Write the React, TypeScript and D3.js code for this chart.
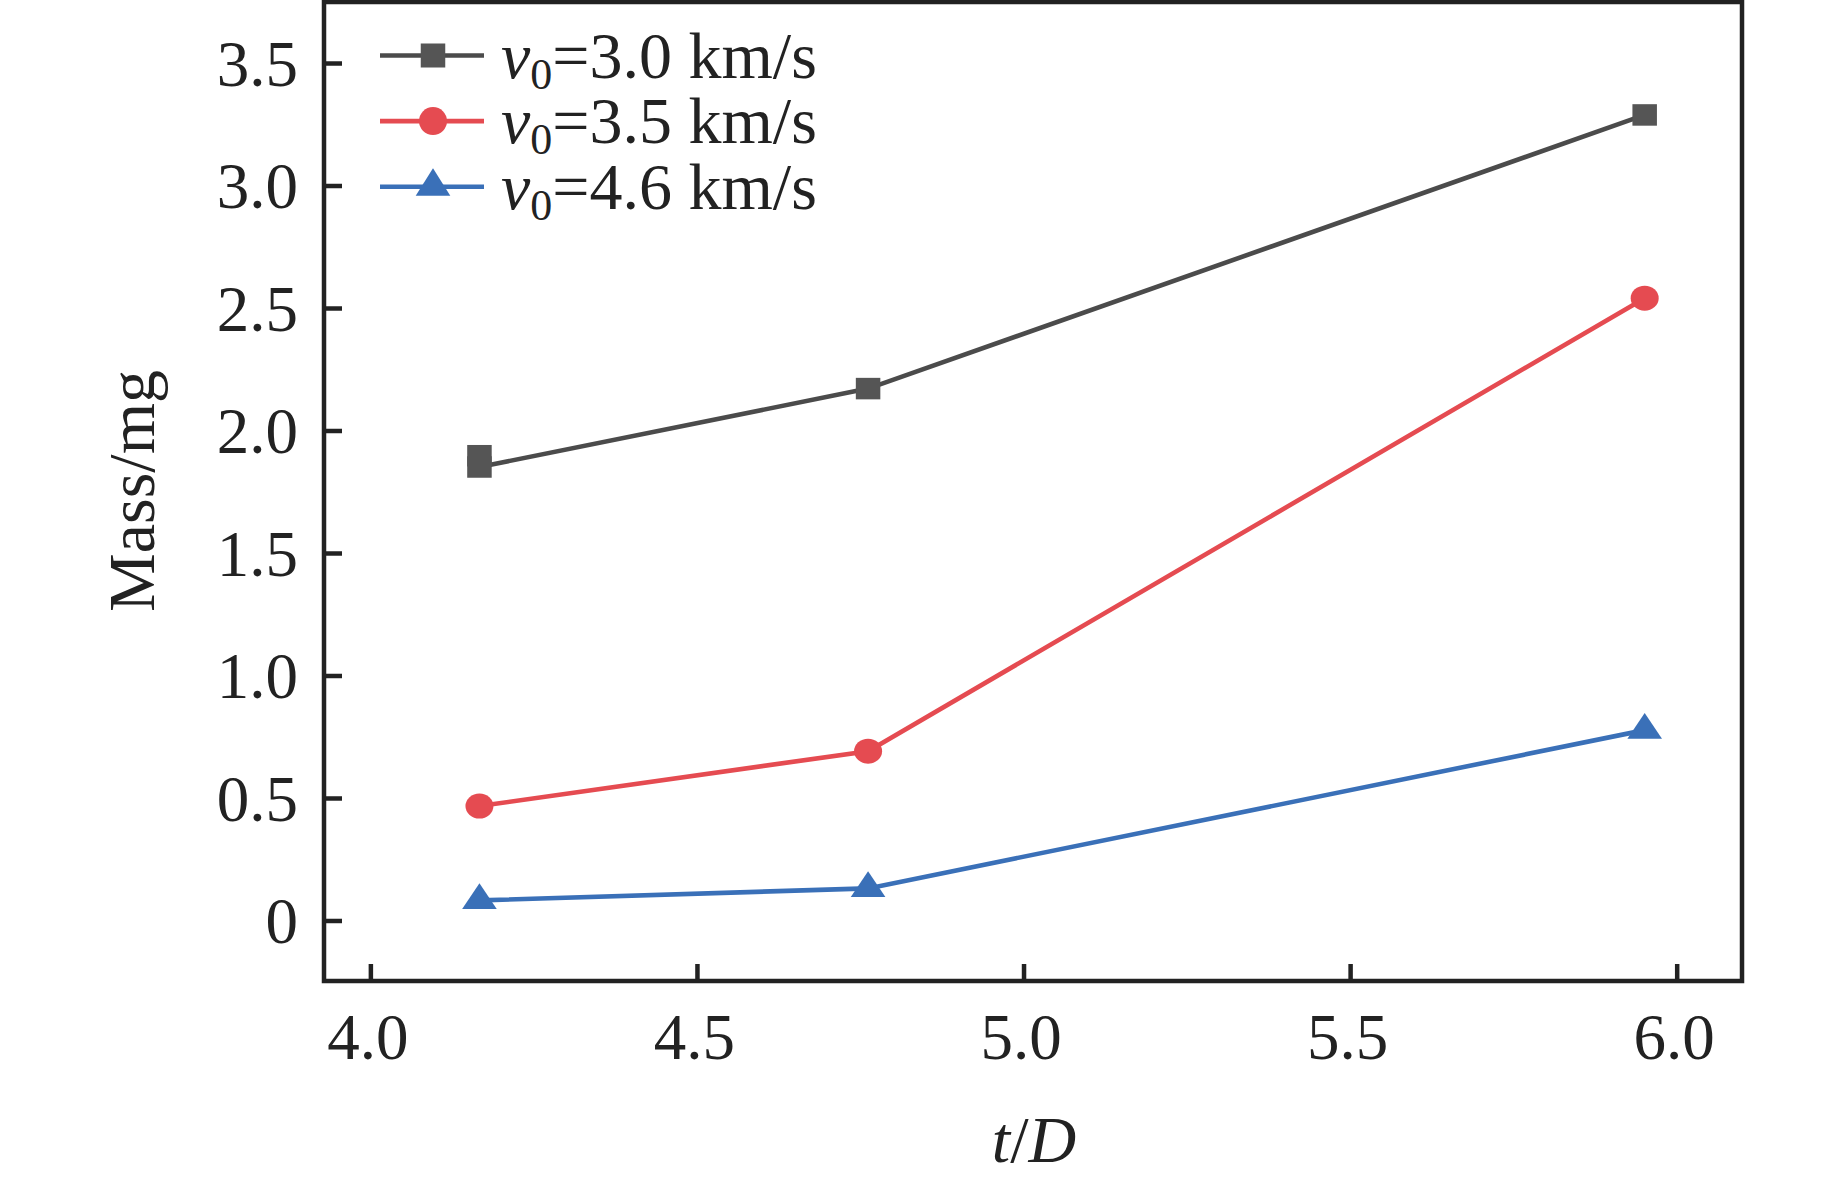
import * as React from 'react';
import * as d3 from 'd3';

// values
const xTicks = [4.0, 4.5, 5.0, 5.5, 6.0];
const yTicks = [0, 0.5, 1.0, 1.5, 2.0, 2.5, 3.0, 3.5];

const series3_0: [number, number][] = [[4.167, 1.897], [4.167, 1.851], [4.762, 2.171], [5.951, 3.288]];
const series3_5: [number, number][] = [[4.167, 0.467], [4.762, 0.691], [5.951, 2.540]];
const series4_6: [number, number][] = [[4.167, 0.082], [4.762, 0.131], [5.951, 0.777]];

const seriesNames = ['3.0', '3.5', '4.6'];
const seriesColors = ['#4b4b4b', '#e54b51', '#3a70b8'];
const seriesMarkers = ['square', 'circle', 'triangle'];

const W = 1843;
const H = 1181;
const frame = { left: 324, right: 1742, top: 2, bottom: 981 };
const font = '"Liberation Serif", "Times New Roman", serif';
const ink = '#222';

function marker(g: d3.Selection<SVGGElement, unknown, null, undefined>, kind: string, color: string, big = false) {
  if (kind === 'square') {
    const w = 24.5, h = big ? 24 : 21.5;
    g.append('rect').attr('x', -w / 2).attr('y', -h / 2).attr('width', w).attr('height', h).attr('fill', color);
  } else if (kind === 'circle') {
    g.append('ellipse').attr('rx', 14).attr('ry', big ? 14 : 12.5).attr('fill', color);
  } else {
    const hw = 17.3, h = big ? 27.5 : 25.7;
    g.append('path')
      .attr('d', `M0,${-h * 2 / 3}L${hw},${h / 3}L${-hw},${h / 3}Z`)
      .attr('fill', color);
  }
}

export default function App() {
  const ref = React.useRef<SVGSVGElement>(null);

  React.useEffect(() => {
    const el = ref.current;
    if (!el) { return; }
    el.innerHTML = '';
    const svg = d3.select(el);

    const x = d3.scaleLinear().domain([3.929, 6.1]).range([frame.left, frame.right]);
    const y = d3.scaleLinear().domain([-0.247, 3.749]).range([frame.bottom, frame.top]);

    // axes, ticks pointing inward
    const yAxis = svg.append('g')
      .attr('transform', `translate(${frame.left},0)`)
      .call(d3.axisLeft(y).tickValues(yTicks).tickSize(-18).tickPadding(26)
        .tickFormat(d => (+d === 0 ? '0' : d3.format('.1f')(+d))));
    yAxis.select('.domain').remove();
    yAxis.selectAll('line').attr('stroke', ink).attr('stroke-width', 4.5);
    yAxis.selectAll('text')
      .attr('font-family', font).attr('font-size', 65).attr('fill', ink)
      .attr('dy', '0.34em');

    const xAxis = svg.append('g')
      .attr('transform', `translate(0,${frame.bottom})`)
      .call(d3.axisBottom(x).tickValues(xTicks).tickSize(-17).tickPadding(0)
        .tickFormat(d3.format('.1f')));
    xAxis.select('.domain').remove();
    xAxis.selectAll('line').attr('stroke', ink).attr('stroke-width', 4.5);
    xAxis.selectAll('text')
      .attr('font-family', font).attr('font-size', 65).attr('fill', ink)
      .attr('y', 78).attr('dy', 0).attr('x', -3);

    svg.append('rect')
      .attr('x', frame.left).attr('y', frame.top)
      .attr('width', frame.right - frame.left).attr('height', frame.bottom - frame.top)
      .attr('fill', 'none').attr('stroke', ink).attr('stroke-width', 4.5);

    // data
    const line = d3.line<[number, number]>().x(d => x(d[0])).y(d => y(d[1]));
    [series3_0, series3_5, series4_6].forEach((data, i) => {
      svg.append('path')
        .attr('d', line(data))
        .attr('fill', 'none')
        .attr('stroke', seriesColors[i])
        .attr('stroke-width', 4.6);
      data.forEach(d => {
        const g = svg.append('g').attr('transform', `translate(${x(d[0])},${y(d[1])})`);
        marker(g, seriesMarkers[i], i === 0 ? '#555' : seriesColors[i]);
      });
    });

    // legend
    seriesNames.forEach((name, i) => {
      const ly = 55.5 + i * 65.6;
      const base = ly + 22;
      svg.append('line')
        .attr('x1', 380).attr('x2', 484).attr('y1', ly).attr('y2', ly)
        .attr('stroke', seriesColors[i]).attr('stroke-width', 4.6);
      const g = svg.append('g').attr('transform', `translate(433,${ly})`);
      marker(g, seriesMarkers[i], i === 0 ? '#555' : seriesColors[i], true);
      const t = svg.append('text')
        .attr('x', 501).attr('y', base)
        .attr('font-family', font).attr('font-size', 66).attr('fill', ink);
      t.append('tspan').attr('font-style', 'italic').text('v');
      t.append('tspan').attr('font-size', 44).attr('dy', 11).text('0');
      t.append('tspan').attr('dy', -11).text(`=${name} km/s`);
    });

    // axis titles
    svg.append('text')
      .attr('transform', 'translate(154,491) rotate(-90)')
      .attr('text-anchor', 'middle')
      .attr('font-family', font).attr('font-size', 66).attr('fill', ink)
      .text('Mass/mg');

    const xt = svg.append('text')
      .attr('x', 1034).attr('y', 1162)
      .attr('text-anchor', 'middle')
      .attr('font-family', font).attr('font-size', 66).attr('fill', ink)
      .attr('font-style', 'italic');
    xt.append('tspan').text('t');
    xt.append('tspan').attr('font-style', 'normal').text('/');
    xt.append('tspan').text('D');
  }, []);

  return (
    <svg ref={ref} width={W} height={H}
      style={{ position: 'absolute', left: 0, top: 0, background: '#fff', display: 'block' }} />
  );
}
